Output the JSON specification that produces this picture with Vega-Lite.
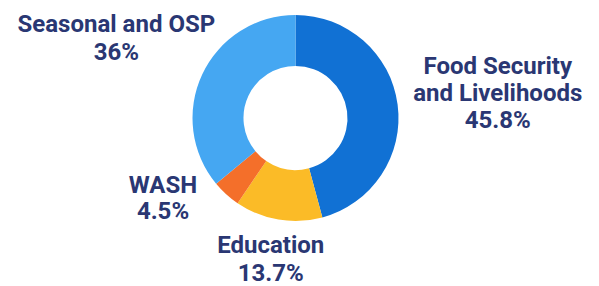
{
  "$schema": "https://vega.github.io/schema/vega-lite/v6.json",
  "width": 591,
  "height": 236,
  "autosize": {"type": "none"},
  "padding": {"left": 0, "top": 0, "right": 8, "bottom": 50},
  "background": "white",
  "view": {"stroke": null},
  "data": {
    "values": [
      {"category": "Food Security and Livelihoods", "label": "Food Security\nand Livelihoods\n45.8%", "share": 45.8, "rank": 1},
      {"category": "Education", "label": "Education\n13.7%", "share": 13.7, "rank": 2},
      {"category": "WASH", "label": "WASH\n4.5%", "share": 4.5, "rank": 3},
      {"category": "Seasonal and OSP", "label": "Seasonal and OSP\n36%", "share": 36, "rank": 4}
    ]
  },
  "encoding": {
    "theta": {"field": "share", "type": "quantitative", "stack": true},
    "order": {"field": "rank", "type": "quantitative"}
  },
  "layer": [
    {
      "mark": {"type": "arc", "innerRadius": 52, "outerRadius": 103},
      "encoding": {
        "color": {
          "field": "category",
          "type": "nominal",
          "legend": null,
          "scale": {
            "domain": ["Food Security and Livelihoods", "Education", "WASH", "Seasonal and OSP"],
            "range": ["#1171d4", "#fbbb27", "#f46f2a", "#45a7f2"]
          }
        }
      }
    },
    {
      "mark": {"type": "text", "radius": 204, "dy": -24, "font": "Roboto", "fontWeight": "bold", "fontSize": 24, "lineHeight": 27, "lineBreak": "\n", "align": "center", "baseline": "middle", "color": "#2a3773"},
      "encoding": {"text": {"condition": {"test": "datum.rank === 1", "field": "label"}, "value": ""}}
    },
    {
      "mark": {"type": "text", "radius": 131, "dx": -3, "dy": -1, "font": "Roboto", "fontWeight": "bold", "fontSize": 24, "lineHeight": 28, "lineBreak": "\n", "align": "center", "baseline": "middle", "color": "#2a3773"},
      "encoding": {"text": {"condition": {"test": "datum.rank === 2", "field": "label"}, "value": ""}}
    },
    {
      "mark": {"type": "text", "radius": 130, "dx": -45, "dy": -28, "font": "Roboto", "fontWeight": "bold", "fontSize": 24, "lineHeight": 26, "lineBreak": "\n", "align": "center", "baseline": "middle", "color": "#2a3773"},
      "encoding": {"text": {"condition": {"test": "datum.rank === 3", "field": "label"}, "value": ""}}
    },
    {
      "mark": {"type": "text", "radius": 198, "dy": -9, "font": "Roboto", "fontWeight": "bold", "fontSize": 24, "lineHeight": 28, "lineBreak": "\n", "align": "center", "baseline": "middle", "color": "#2a3773"},
      "encoding": {"text": {"condition": {"test": "datum.rank === 4", "field": "label"}, "value": ""}}
    }
  ]
}
